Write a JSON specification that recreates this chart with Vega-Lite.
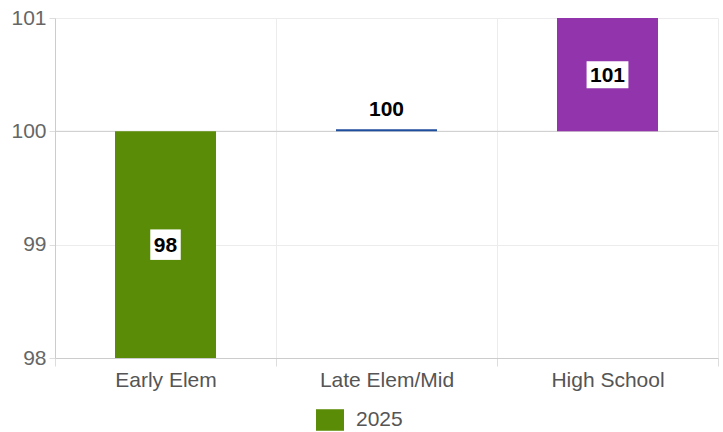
{
  "$schema": "https://vega.github.io/schema/vega-lite/v6.json",
  "width": 663,
  "height": 340,
  "autosize": "none",
  "padding": {"left": 55, "top": 18, "right": 5, "bottom": 74},
  "background": "white",
  "config": {
    "font": "Liberation Sans",
    "view": {"stroke": null},
    "axis": {"labelFont": "Liberation Sans", "titleFont": "Liberation Sans"}
  },
  "resolve": {"scale": {"color": "independent"}, "legend": {"color": "independent"}},
  "data": {
    "values": [
      {"cat": "Early Elem", "value": 98, "lab": "98"},
      {"cat": "Late Elem/Mid", "value": 100.018, "lab": "100"},
      {"cat": "High School", "value": 101, "lab": "101"}
    ]
  },
  "encoding": {
    "x": {
      "field": "cat", "type": "nominal", "sort": null,
      "scale": {"paddingInner": 0, "paddingOuter": 0},
      "axis": {
        "title": null, "labelAngle": 0, "labelFontSize": 21, "labelColor": "#555",
        "labelPadding": 3, "tickBand": "extent", "tickSize": 8, "tickColor": "#ddd",
        "domainColor": "#ccc", "grid": true, "gridColor": "#ececec"
      }
    }
  },
  "layer": [
    {
      "mark": {"type": "rule", "color": "#ccc"},
      "data": {"values": [{"y": 100}]},
      "encoding": {"x": null, "y": {"field": "y", "type": "quantitative"}}
    },
    {
      "mark": {"type": "bar", "width": {"band": 0.457}},
      "encoding": {
        "y": {
          "field": "value", "type": "quantitative",
          "scale": {"domain": [98, 101], "nice": false, "zero": false},
          "axis": {
            "title": null, "values": [98, 99, 100, 101], "format": "d", "labelFontSize": 21,
            "labelColor": "#666", "labelPadding": 3, "tickSize": 6, "tickColor": "#ddd",
            "domainColor": "#ccc", "gridColor": "#ececec"
          }
        },
        "y2": {"datum": 100},
        "color": {
          "field": "cat", "type": "nominal",
          "scale": {"domain": ["Early Elem", "Late Elem/Mid", "High School"], "range": ["#5b8c07", "#1f4e9e", "#9235ad"]},
          "legend": null
        }
      }
    },
    {
      "transform": [{"filter": "datum.lab == '98'"}, {"calculate": "(datum.value + 100) / 2", "as": "mid"}],
      "mark": {"type": "point", "shape": "M-1,-1H1V1H-1Z", "size": 930, "filled": true, "color": "white", "opacity": 1},
      "encoding": {"y": {"field": "mid", "type": "quantitative"}}
    },
    {
      "transform": [{"filter": "datum.lab == '101'"}, {"calculate": "(datum.value + 100) / 2", "as": "mid"}],
      "mark": {"type": "point", "shape": "M-1.55,-1H1.55V1H-1.55Z", "size": 729, "filled": true, "color": "white", "opacity": 1},
      "encoding": {"y": {"field": "mid", "type": "quantitative"}}
    },
    {
      "transform": [{"filter": "datum.lab != '100'"}, {"calculate": "(datum.value + 100) / 2", "as": "mid"}],
      "mark": {"type": "text", "fontSize": 21, "fontWeight": "bold", "color": "black", "baseline": "middle", "dy": 1},
      "encoding": {"y": {"field": "mid", "type": "quantitative"}, "text": {"field": "lab"}}
    },
    {
      "transform": [{"filter": "datum.lab == '100'"}],
      "mark": {"type": "text", "fontSize": 21, "fontWeight": "bold", "color": "black", "baseline": "middle", "dy": -19},
      "encoding": {"y": {"field": "value", "type": "quantitative"}, "text": {"field": "lab"}}
    },
    {
      "data": {"values": [{"series": "2025", "y": 98}]},
      "mark": {"type": "square", "opacity": 0},
      "encoding": {
        "x": null,
        "y": {"field": "y", "type": "quantitative"},
        "color": {
          "field": "series", "type": "nominal",
          "scale": {"domain": ["2025"], "range": ["#5b8c07"]},
          "legend": {
            "title": null, "orient": "none", "legendX": 264, "legendY": 391,
            "symbolType": "M-1.3,-1H1.3V1H-1.3Z", "symbolSize": 464, "symbolOpacity": 1,
            "symbolStrokeWidth": 0, "labelFontSize": 21, "labelColor": "#555", "labelOffset": 15
          }
        }
      }
    }
  ]
}
